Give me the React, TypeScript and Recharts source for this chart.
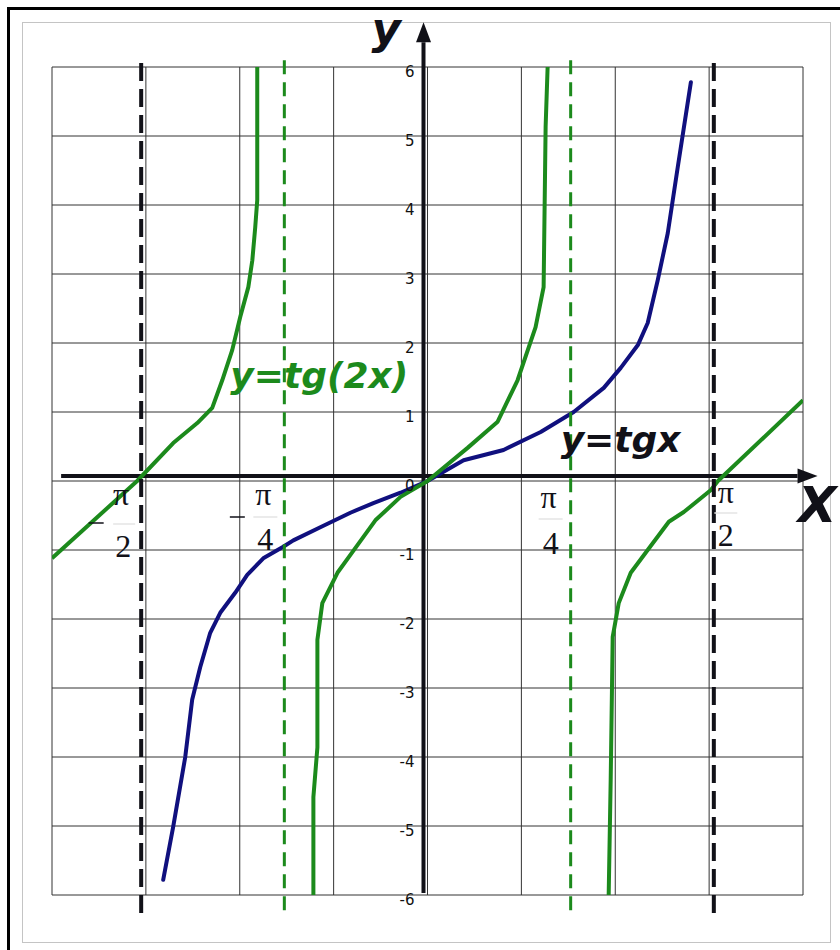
import React from "react";
import {
    LineChart,
    Line,
    XAxis,
    YAxis,
    CartesianGrid,
    ReferenceLine,
    ReferenceDot
} from "recharts";

const PI = Math.PI;

// x is in radians, the grid has 4 cells on each side of zero
const X_MAX = 2.06;
const X_GRID = [-4, -3, -2, -1, 0, 1, 2, 3, 4].map((k) => (k * X_MAX) / 4);
const Y_TICKS = [-6, -5, -4, -3, -2, -1, 0, 1, 2, 3, 4, 5, 6];

// y = tg x
const tanX = [-1.45, -1.395, -1.329, -1.291, -1.247, -1.192, -1.137, -1.055, -0.989, -0.901, -0.796, -0.736, -0.588, -0.423, -0.297, -0.148, 0, 0.198, 0.417, 0.621, 0.802, 0.967, 1.06, 1.154, 1.208, 1.263, 1.318, 1.373, 1.445];
const tanY = [-5.78, -5.01, -4.0, -3.17, -2.7, -2.2, -1.91, -1.62, -1.36, -1.12, -0.96, -0.86, -0.67, -0.46, -0.32, -0.17, 0, 0.3, 0.45, 0.71, 1.0, 1.35, 1.64, 1.97, 2.29, 2.91, 3.59, 4.55, 5.78];

// y = tg(2x), three branches
const tan2LeftX = [-2.06, -1.593, -1.395, -1.263, -1.181, -1.126, -1.071, -1.027, -0.983, -0.961, -0.945, -0.934, -0.934];
const tan2LeftY = [-1.12, 0, 0.55, 0.84, 1.06, 1.46, 1.9, 2.38, 2.81, 3.2, 3.68, 4.07, 6.0];

const tan2MidX = [-0.626, -0.626, -0.604, -0.604, -0.577, -0.494, -0.423, -0.286, -0.148, 0, 0.22, 0.385, 0.494, 0.593, 0.637, 0.648, 0.659];
const tan2MidY = [-6.0, -4.58, -3.86, -2.3, -1.77, -1.33, -1.07, -0.57, -0.23, 0, 0.48, 0.86, 1.46, 2.23, 2.81, 5.13, 6.0];

const tan2RightX = [0.994, 1.005, 1.016, 1.049, 1.115, 1.208, 1.324, 1.406, 1.555, 1.593, 2.06];
const tan2RightY = [-6.0, -4.33, -2.26, -1.77, -1.33, -1.0, -0.59, -0.45, -0.13, 0, 1.17];

const TAN_ASYMPTOTES = [-PI / 2, PI / 2];
const TAN2_ASYMPTOTES = [-PI / 4, PI / 4];

const PI_MARKS = [-PI / 2, -PI / 4, PI / 4, PI / 2];
const PI_DENOMS = ["2", "4", "4", "2"];

const zip = (xs: number[], ys: number[]) => xs.map((x, i) => ({ x, y: ys[i] }));

const tanData = zip(tanX, tanY);
const tan2Left = zip(tan2LeftX, tan2LeftY);
const tan2Mid = zip(tan2MidX, tan2MidY);
const tan2Right = zip(tan2RightX, tan2RightY);

const GREEN = "#1c8a1c";
const BLUE = "#10107e";
const INK = "#111118";

// hand placed offsets of the fraction labels, relative to the point on the axis
const PI_LAYOUT = [
    { pi: [-20, 24], bar: [-17, 43, 22], den: [-18, 76], minus: [-45, 42] },
    { pi: [-21, 24], bar: [-19, 36, 24], den: [-19, 69], minus: [-47, 36] },
    { pi: [-22, 27], bar: [-20, 38, 24], den: [-20, 73], minus: null },
    { pi: [12, 22], bar: [12, 32, 23], den: [12, 65], minus: null }
];

function PiLabel({ cx, cy, den, o }: any) {
    return (
        <g fontFamily="'Liberation Serif', 'DejaVu Serif', serif" fontSize={32} fill={INK} textAnchor="middle">
            <text x={cx + o.pi[0]} y={cy + o.pi[1]}>π</text>
            <line
                x1={cx + o.bar[0] - o.bar[2] / 2}
                x2={cx + o.bar[0] + o.bar[2] / 2}
                y1={cy + o.bar[1]}
                y2={cy + o.bar[1]}
                stroke="#e4e4e4"
                strokeWidth={1.5}
            />
            <text x={cx + o.den[0]} y={cy + o.den[1]}>{den}</text>
            {o.minus && (
                <line
                    x1={cx + o.minus[0] - 7.5}
                    x2={cx + o.minus[0] + 7.5}
                    y1={cy + o.minus[1]}
                    y2={cy + o.minus[1]}
                    stroke={INK}
                    strokeWidth={1.5}
                />
            )}
        </g>
    );
}

// thick axis with an arrowhead at the second end point
function AxisArrow({ x1, y1, x2, y2, dx = 0, dy = 0 }: any) {
    const len = Math.hypot(x2 - x1, y2 - y1) || 1;
    const ux = (x2 - x1) / len;
    const uy = (y2 - y1) / len;
    const head = 20;
    const half = 7.5;
    const bx = x2 + dx - ux * head;
    const by = y2 + dy - uy * head;
    return (
        <g>
            <line x1={x1 + dx} y1={y1 + dy} x2={bx} y2={by} stroke={INK} strokeWidth={4} />
            <polygon
                points={`${x2 + dx},${y2 + dy} ${bx - uy * half},${by + ux * half} ${bx + uy * half},${by - ux * half}`}
                fill={INK}
            />
        </g>
    );
}

function TextAt({ cx, cy, dx, dy, children, ...rest }: any) {
    return (
        <text x={cx + dx} y={cy + dy} {...rest}>
            {children}
        </text>
    );
}

export default function App() {
    return (
        <div
            style={{
                position: "absolute",
                left: 0,
                top: 0,
                width: 840,
                height: 950,
                overflow: "hidden",
                background: "#fff"
            }}
        >
            <div style={{ position: "absolute", left: 7, top: 7, width: 900, height: 1000, border: "3px solid #000" }} />
            <div style={{ position: "absolute", left: 22, top: 22, width: 807, height: 919, border: "1px solid #c4c4c4" }} />
            <div style={{ position: "absolute", left: 0, top: 0 }}>
                <LineChart width={840} height={950} margin={{ top: 67, right: 37, bottom: 55, left: 52 }}>
                    <CartesianGrid stroke="#333" strokeWidth={1} />
                    <XAxis
                        type="number"
                        dataKey="x"
                        domain={[-X_MAX, X_MAX]}
                        ticks={X_GRID}
                        allowDataOverflow
                        hide
                    />
                    <YAxis type="number" domain={[-6, 6]} ticks={Y_TICKS} allowDataOverflow hide />

                    {/* axes with arrows, drawn a little off the zero grid lines like in the original */}
                    <ReferenceLine
                        segment={[{ x: 0, y: -5.97 }, { x: 0, y: 6.65 }]}
                        ifOverflow="visible"
                        zIndex={0}
                        shape={(p: any) => <AxisArrow {...p} dx={-4} />}
                    />
                    <ReferenceLine
                        segment={[{ x: -2.01, y: 0 }, { x: 2.14, y: 0 }]}
                        ifOverflow="visible"
                        zIndex={0}
                        shape={(p: any) => <AxisArrow {...p} dy={-5} />}
                    />

                    <Line data={tanData} dataKey="y" type="linear" stroke={BLUE} strokeWidth={4} dot={false} isAnimationActive={false} strokeLinejoin="round" strokeLinecap="round" />
                    <Line data={tan2Left} dataKey="y" type="linear" stroke={GREEN} strokeWidth={4} dot={false} isAnimationActive={false} strokeLinejoin="round" />
                    <Line data={tan2Mid} dataKey="y" type="linear" stroke={GREEN} strokeWidth={4} dot={false} isAnimationActive={false} strokeLinejoin="round" />
                    <Line data={tan2Right} dataKey="y" type="linear" stroke={GREEN} strokeWidth={4} dot={false} isAnimationActive={false} strokeLinejoin="round" />

                    {Y_TICKS.map((v) => (
                        <ReferenceDot
                            key={`yt${v}`}
                            x={0}
                            y={v}
                            ifOverflow="visible"
                            shape={(p: any) => (
                                <TextAt cx={p.cx} cy={p.cy} dx={-13} dy={10} textAnchor="end" fontSize={15} fontFamily="'DejaVu Sans', sans-serif" fill="#111">
                                    {String(v)}
                                </TextAt>
                            )}
                        />
                    ))}

                    {PI_MARKS.map((m, i) => (
                        <ReferenceDot
                            key={`pm${i}`}
                            x={m}
                            y={0}
                            ifOverflow="visible"
                            shape={(p: any) => <PiLabel cx={p.cx} cy={p.cy} den={PI_DENOMS[i]} o={PI_LAYOUT[i]} />}
                        />
                    ))}

                    <ReferenceDot
                        x={-PI / 4}
                        y={1}
                        ifOverflow="visible"
                        shape={(p: any) => (
                            <TextAt cx={p.cx} cy={p.cy} dx={-54} dy={-24} fontSize={36} fontWeight="bold" fontStyle="italic" fontFamily="'DejaVu Sans', sans-serif" fill={GREEN}>
                                y=tg(2x)
                            </TextAt>
                        )}
                    />
                    <ReferenceDot
                        x={PI / 4}
                        y={1}
                        ifOverflow="visible"
                        shape={(p: any) => (
                            <TextAt cx={p.cx} cy={p.cy} dx={-10} dy={40} fontSize={36} fontWeight="bold" fontStyle="italic" fontFamily="'DejaVu Sans', sans-serif" fill={INK}>
                                y=tgx
                            </TextAt>
                        )}
                    />
                    <ReferenceDot
                        x={0}
                        y={6}
                        ifOverflow="visible"
                        shape={(p: any) => (
                            <TextAt cx={p.cx} cy={p.cy} dx={-56} dy={-23} fontSize={45} fontWeight="bold" fontStyle="italic" fontFamily="'DejaVu Sans', sans-serif" fill={INK}>
                                y
                            </TextAt>
                        )}
                    />
                    <ReferenceDot
                        x={X_MAX}
                        y={0}
                        ifOverflow="visible"
                        shape={(p: any) => (
                            <TextAt cx={p.cx} cy={p.cy} dx={-5} dy={41} fontSize={50} fontWeight="bold" fontStyle="italic" fontFamily="'DejaVu Sans', sans-serif" fill={INK}>
                                X
                            </TextAt>
                        )}
                    />

                    {TAN2_ASYMPTOTES.map((a) => (
                        <ReferenceLine
                            key={`g${a}`}
                            segment={[{ x: a, y: -6.22 }, { x: a, y: 6.13 }]}
                            ifOverflow="visible"
                            stroke={GREEN}
                            strokeWidth={3}
                            strokeDasharray="14 8"
                        />
                    ))}
                    {TAN_ASYMPTOTES.map((a) => (
                        <ReferenceLine
                            key={`b${a}`}
                            segment={[{ x: a, y: -6.26 }, { x: a, y: 6.06 }]}
                            ifOverflow="visible"
                            stroke={INK}
                            strokeWidth={4}
                            strokeDasharray="18 8"
                        />
                    ))}
                </LineChart>
            </div>
        </div>
    );
}
